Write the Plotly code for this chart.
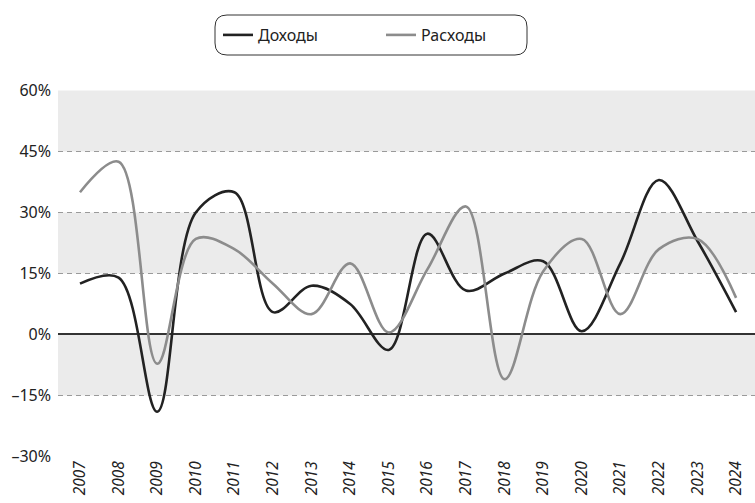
import plotly.graph_objects as go

years = list(range(2007, 2025))
income = [12.5, 14.0, -19.0, 30.0, 35.0, 5.5, 12.0, 7.5, -3.8, 24.8, 10.8, 15.0, 18.0, 0.8, 17.5, 38.0, 23.0, 5.5]
expense = [35.0, 42.5, -7.2, 23.5, 21.0, 12.5, 5.0, 17.5, 0.5, 16.0, 31.5, -11.0, 15.5, 23.5, 5.0, 21.0, 23.5, 9.0]
series_names = ["Доходы", "Расходы"]
y_ticks = [-30, -15, 0, 15, 30, 45, 60]
y_tick_labels = ["–30%", "–15%", "0%", "15%", "30%", "45%", "60%"]
bands = [(45, 60), (15, 30), (-15, 0)]

FONT = "Noto Sans"

fig = go.Figure()
fig.add_trace(go.Scatter(x=years, y=income, name=series_names[0], mode="lines",
                         line=dict(color="#222222", width=2.6, shape="spline", smoothing=1.0)))
fig.add_trace(go.Scatter(x=years, y=expense, name=series_names[1], mode="lines",
                         line=dict(color="#8c8c8c", width=2.6, shape="spline", smoothing=1.0)))

for lo, hi in bands:
    fig.add_shape(type="rect", xref="paper", x0=0, x1=1, yref="y", y0=lo, y1=hi,
                  fillcolor="#ebebeb", line_width=0, layer="below")

# rounded legend frame
w, h, r = 312, 40, 12
hw, hh = w / 2, h / 2
path = (f"M {-hw + r},{-hh} L {hw - r},{-hh} Q {hw},{-hh} {hw},{-hh + r} "
        f"L {hw},{hh - r} Q {hw},{hh} {hw - r},{hh} L {-hw + r},{hh} "
        f"Q {-hw},{hh} {-hw},{hh - r} L {-hw},{-hh + r} Q {-hw},{-hh} {-hw + r},{-hh} Z")
fig.add_shape(type="path", xref="paper", yref="paper", xsizemode="pixel", ysizemode="pixel",
              xanchor=(371 - 58) / 697, yanchor=1 + (90 - 35) / 367, path=path,
              line=dict(color="#333333", width=1), fillcolor="rgba(0,0,0,0)")

fig.update_layout(
    width=755, height=503,
    margin=dict(l=58, r=0, t=90, b=46, autoexpand=False),
    paper_bgcolor="white", plot_bgcolor="white",
    font=dict(family=FONT, size=14, color="#222222"),
    showlegend=True,
    legend=dict(orientation="h", x=(218 - 58) / 697, xanchor="left",
                y=1 + (90 - 35) / 367, yanchor="middle",
                font=dict(size=16, family=FONT, color="#222222"),
                bgcolor="rgba(0,0,0,0)", entrywidth=118, entrywidthmode="pixels",
                itemwidth=30),
    xaxis=dict(range=[2006.43, 2024.49], tickmode="array", tickvals=years,
               ticktext=[str(y) for y in years], tickangle=-90, automargin=False,
               tickfont=dict(size=15.5, family=FONT, style="italic", color="#222222"),
               showgrid=False, zeroline=False, showline=False, ticks="", ticklen=0),
    yaxis=dict(range=[-30.15, 60.15], tickmode="array", tickvals=y_ticks, ticktext=y_tick_labels,
               tickfont=dict(size=16, family=FONT, color="#222222"), automargin=False,
               showgrid=True, gridcolor="#9a9a9a", griddash="5px,4px", gridwidth=1,
               zeroline=True, zerolinecolor="#333333", zerolinewidth=1.5,
               showline=False, ticks="", ticklabelstandoff=6),
)

fig.write_html("out.html", config={"displayModeBar": False},
               post_script="document.body.style.margin='0';")
